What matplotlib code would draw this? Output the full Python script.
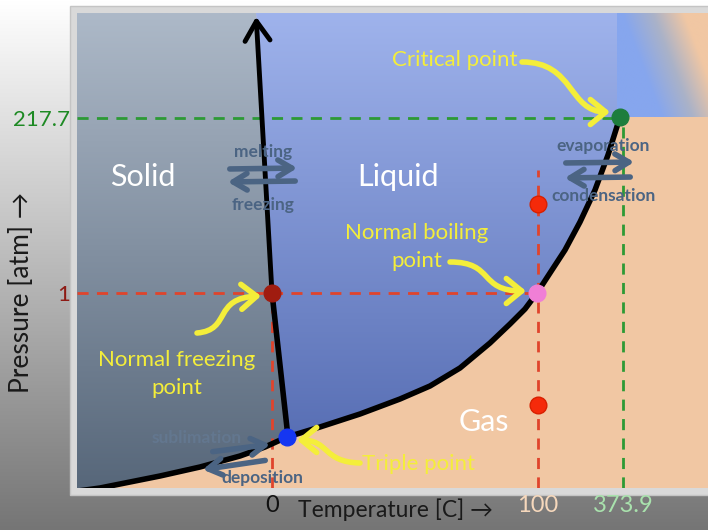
import numpy as np
import matplotlib
matplotlib.use("Agg")
import matplotlib.pyplot as plt
from matplotlib.patches import Polygon, Rectangle, FancyArrowPatch
from matplotlib.path import Path
from matplotlib.colors import to_rgb

plt.rcParams['font.family'] = ['Lato', 'DejaVu Sans']

# schematic drawing units: the plot box is 631 wide, 475 tall
W, H = 631, 475

# sublimation + vaporization curve (bottom-left -> critical point)
boundary_x = [1, 23, 53, 83, 123, 163, 188, 210, 243, 283, 323, 353, 383, 413,
              433, 448, 460, 473, 488, 503, 518, 531, 543]
boundary_y = [-3, 0, 6, 12, 21, 32, 41, 51, 61, 74, 89, 102, 120, 145,
              164, 179, 195, 215, 238, 266, 298, 333, 371]
TRIPLE = 7  # index of the triple point in the boundary
# melting curve (triple point -> top)
melt_x = [211, 195, 179]
melt_y = [51, 195, 475]

# special points: triple, normal freezing, normal boiling, critical
point_x = [210, 195, 460, 543]
point_y = [51, 195, 195, 371]
point_colors = ["#1536f2", "#a01c10", "#f07fd6", "#1d7d3d"]
# extra red dots on the 100 C isotherm
iso_x = [461, 461]
iso_y = [284, 83]

# reference levels
t_ticks = [195, 461, 546]
t_labels = ["0", "100", "373.9"]
t_colors = ["#111111", "#f6d8bc", "#a9e2ad"]
p_ticks = [195, 370]
p_labels = ["1", "217.7"]
p_colors = ["#8e1a14", "#1e8a24"]
iso_top = 318  # top of the dashed 100 C line

regions = ["Solid", "Liquid", "Gas"]
region_x = [66, 321, 407]
region_y = [311, 311, 66]

fig = plt.figure(figsize=(7.08, 5.30), dpi=100)

# background gradient
bg = fig.add_axes([0, 0, 1, 1])
g = np.linspace(0, 1, 256)[:, None]
bgc = (1 - g) * np.array([1.0, 1.0, 1.0]) + g * np.array([0.46, 0.46, 0.46])
bg.imshow(bgc[:, None, :], extent=(0, 708, 530, 0), aspect='auto')
bg.add_patch(Rectangle((70, 6), 650, 489, facecolor="#d9d9d9", edgecolor="#c4c4c4", lw=1))
bg.set_xlim(0, 708)
bg.set_ylim(530, 0)
bg.axis('off')

ax = fig.add_axes([77 / 708, 42 / 530, 631 / 708, 475 / 530])
ax.set_facecolor("#f1c7a3")


def fill_gradient(verts, top, bottom, z):
    poly = Polygon(verts, closed=True, facecolor='none', edgecolor='none')
    ax.add_patch(poly)
    t = np.linspace(0, 1, 256)[:, None]
    img = (1 - t) * np.array(to_rgb(top)) + t * np.array(to_rgb(bottom))
    im = ax.imshow(img[:, None, :], extent=(0, W, 0, H), origin='upper',
                   aspect='auto', zorder=z)
    im.set_clip_path(poly)


# solid region
solid = [(0, H), (melt_x[2], melt_y[2]), (melt_x[1], melt_y[1]), (melt_x[0], melt_y[0])]
solid += [(x, y) for x, y in zip(boundary_x[TRIPLE::-1], boundary_y[TRIPLE::-1])]
solid += [(0, 0)]
fill_gradient(solid, "#adb9c8", "#57677a", 1)

# liquid region
liquid = [(melt_x[2], melt_y[2]), (540, H), (540, point_y[3])]
liquid += [(x, y) for x, y in zip(boundary_x[:TRIPLE - 1:-1], boundary_y[:TRIPLE - 1:-1])]
liquid += [(melt_x[0], melt_y[0]), (melt_x[1], melt_y[1])]
fill_gradient(liquid, "#9fb3ec", "#5067ae", 1)

# supercritical corner
xx, yy = np.meshgrid(np.linspace(540, W, 120), np.linspace(H, point_y[3], 120))
s = np.clip(((xx - 540) * 104 + (yy - H) * 40 - 500) / 6500, 0, 1)[..., None]
c_blue = np.array(to_rgb("#86a6ee"))
c_mid = np.array(to_rgb("#aab2c8"))
c_peach = np.array(to_rgb("#f1c7a3"))
sc = np.where(s < 0.5, c_blue + (c_mid - c_blue) * (s / 0.5),
              c_mid + (c_peach - c_mid) * ((s - 0.5) / 0.5))
ax.imshow(sc, extent=(540, W, point_y[3], H), origin='upper', aspect='auto', zorder=1)

# dashed guide lines
dash = dict(ls=(0, (4, 3)), lw=2, zorder=3)
ax.plot([0, point_x[2]], [p_ticks[0], p_ticks[0]], color="#e0442c", **dash)
ax.plot([t_ticks[0], t_ticks[0]], [0, p_ticks[0]], color="#e0442c", **dash)
ax.plot([t_ticks[1], t_ticks[1]], [0, iso_top], color="#e0442c", **dash)
ax.plot([0, point_x[3]], [p_ticks[1], p_ticks[1]], color="#2d9a35", **dash)
ax.plot([t_ticks[2], t_ticks[2]], [0, p_ticks[1]], color="#2d9a35", **dash)

# phase boundaries
ax.plot(boundary_x, boundary_y, color="black", lw=4, solid_capstyle='round',
        solid_joinstyle='round', zorder=4)
ax.plot(melt_x[:2], melt_y[:2], color="black", lw=4, zorder=4)
ax.add_patch(FancyArrowPatch((melt_x[1], melt_y[1]), (melt_x[2], melt_y[2] - 1),
                             arrowstyle='->,head_length=0.7,head_width=0.45',
                             mutation_scale=20, lw=3.5, color="black", zorder=4))

# process arrows
proc = "#4b6483"
arr = dict(arrowstyle='->,head_length=0.5,head_width=0.3', mutation_scale=20,
           lw=4, color=proc, zorder=5)
for a, b in [((150, 319), (223, 320)), ((221, 307), (148, 306)),
             ((486, 325), (560, 326)), ((556, 311), (485, 310)),
             ((133, 36), (196, 44)), ((191, 28), (123, 18))]:
    ax.add_patch(FancyArrowPatch(a, b, **arr))

lab = dict(ha='center', va='center', fontsize=12.5, fontweight='bold', color=proc, zorder=8)
ax.text(186, 336, "melting", **lab)
ax.text(186, 283, "freezing", **lab)
ax.text(526, 342, "evaporation", **lab)
ax.text(526, 292, "condensation", **lab)
ax.text(120, 50, "sublimation", **dict(lab, color="#63778f"))
ax.text(185, 10, "deposition", **lab)

# region names
for name, x, y in zip(regions, region_x, region_y):
    ax.text(x, y, name, ha='center', va='center', fontsize=22, color="white", zorder=8)

# points
ax.plot(iso_x, iso_y, 'o', ms=12, color="#f52a0a", mec="#d82000", zorder=6)
for x, y, c in zip(point_x, point_y, point_colors):
    ax.plot(x, y, 'o', ms=12, color=c, zorder=6)

# yellow annotations
yel = "#f4ee3a"


def curly(p0, p1, p2, p3):
    path = Path([p0, p1, p2, p3], [Path.MOVETO, Path.CURVE4, Path.CURVE4, Path.CURVE4])
    ax.add_patch(FancyArrowPatch(path=path, arrowstyle='->,head_length=0.55,head_width=0.45',
                                 mutation_scale=20, lw=4, color=yel, zorder=7))


curly((445, 426), (498, 426), (491, 376), (533, 376))
curly((373, 226), (418, 226), (401, 197), (449, 197))
curly((120, 155), (155, 158), (135, 190), (184, 192))
curly((283, 25), (245, 26), (253, 48), (220, 48))

ytxt = dict(ha='center', va='center', fontsize=16, color=yel, zorder=8, linespacing=1.45)
ax.text(378, 428, "Critical point", **ytxt)
ax.text(340, 241, "Normal boiling\npoint", **ytxt)
ax.text(100, 114, "Normal freezing\npoint", **ytxt)
ax.text(341, 24, "Triple point", **ytxt)

# axes, ticks and labels
ax.set_xlim(0, W)
ax.set_ylim(0, H)
for sp in ax.spines.values():
    sp.set_visible(False)
ax.set_xticks(t_ticks, t_labels)
ax.set_yticks(p_ticks, p_labels)
ax.tick_params(length=0)
ax.tick_params(axis='x', pad=5, labelsize=17)
ax.tick_params(axis='y', pad=5, labelsize=16)
for lbl, c in zip(ax.get_xticklabels(), t_colors):
    lbl.set_color(c)
for lbl, c in zip(ax.get_yticklabels(), p_colors):
    lbl.set_color(c)

ax.set_xlabel("Temperature [C] \u2192", fontsize=16.5, color="#1a1a1a")
ax.xaxis.set_label_coords(318 / W, -0.045)
ax.xaxis.label.set_va('center')
ax.set_ylabel("Pressure [atm] \u2192", fontsize=19, color="#1a1a1a")
ax.yaxis.set_label_coords(-55 / W, 196 / H)
ax.yaxis.label.set_va('center')

fig.savefig("out.png", dpi=100)
